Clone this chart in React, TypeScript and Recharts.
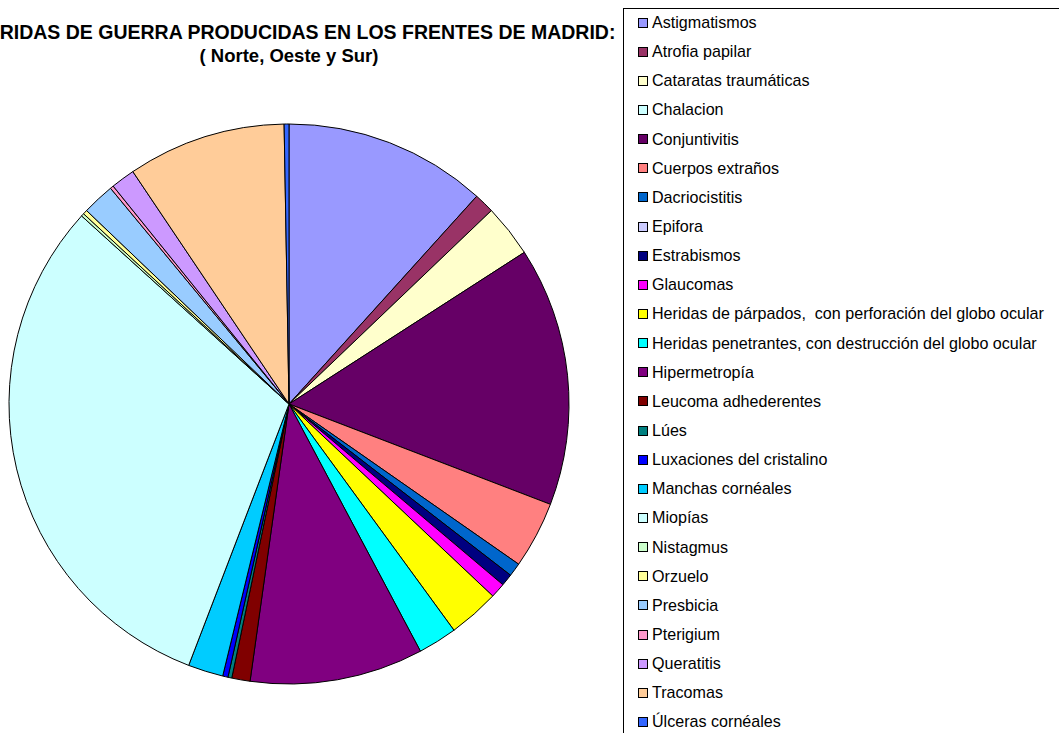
// Heridas de guerra - pie chart with boxed legend on the right

import { PieChart, Pie, Legend } from "recharts";

const categories = [
  "Astigmatismos",
  "Atrofia papilar",
  "Cataratas traumáticas",
  "Chalacion",
  "Conjuntivitis",
  "Cuerpos extraños",
  "Dacriocistitis",
  "Epifora",
  "Estrabismos",
  "Glaucomas",
  "Heridas de párpados,  con perforación del globo ocular",
  "Heridas penetrantes, con destrucción del globo ocular",
  "Hipermetropía",
  "Leucoma adhederentes",
  "Lúes",
  "Luxaciones del cristalino",
  "Manchas cornéales",
  "Miopías",
  "Nistagmus",
  "Orzuelo",
  "Presbicia",
  "Pterigium",
  "Queratitis",
  "Tracomas",
  "Úlceras cornéales",
];

// estimated share of each slice
const values = [
  42.1, 4.2, 10.9, 0, 53.8, 13.9, 2.8, 0, 2.5, 3.1, 10.6, 8.1, 36.0, 3.8, 0.8,
  1.1, 7.3, 111.2, 0.6, 0.9, 6.7, 0.7, 5.0, 32.9, 1.0,
];

const colors = [
  "#9999FF", "#993366", "#FFFFCC", "#CCFFFF", "#660066", "#FF8080", "#0066CC",
  "#CCCCFF", "#000080", "#FF00FF", "#FFFF00", "#00FFFF", "#800080", "#800000",
  "#008080", "#0000FF", "#00CCFF", "#CCFFFF", "#CCFFCC", "#FFFF99", "#99CCFF",
  "#FF99CC", "#CC99FF", "#FFCC99", "#3366FF",
];

const titleLines = [
  "HERIDAS DE GUERRA PRODUCIDAS EN LOS FRENTES DE MADRID:",
  "( Norte, Oeste y Sur)",
];

const data = categories.map((name, i) => ({ name, value: values[i], fill: colors[i] }));

function LegendBox(props: any) {
  // keep the original category order (recharts sorts by value name otherwise)
  const payload = [...(props.payload || [])].sort(
    (a: any, b: any) => categories.indexOf(a.value) - categories.indexOf(b.value)
  );
  return (
    <div
      style={{
        border: "1px solid #000",
        width: 460,
        height: 740,
        boxSizing: "border-box",
        background: "#fff",
        paddingLeft: 14,
      }}
    >
      {payload.map((entry: any, i: number) => (
        <div
          key={i}
          style={{
            height: 29.15,
            marginTop: i === 0 ? -1 : 0,
            display: "flex",
            alignItems: "center",
            fontSize: 16.1,
            color: "#000",
            whiteSpace: "pre",
          }}
        >
          <span
            style={{
              width: 10,
              height: 10,
              boxSizing: "border-box",
              border: "1px solid #000",
              background: colors[categories.indexOf(entry.value)],
              marginRight: 4,
              flexShrink: 0,
            }}
          />
          {entry.value}
        </div>
      ))}
    </div>
  );
}

export default function App() {
  return (
    <div
      style={{
        position: "fixed",
        left: 0,
        top: 0,
        width: 1059,
        height: 733,
        overflow: "hidden",
        background: "#fff",
        fontFamily: "'Liberation Sans', Arial, sans-serif",
      }}
    >
      <PieChart width={1059} height={733} margin={{ top: 0, right: 0, bottom: 0, left: 0 }}>
        <Pie
          data={data}
          dataKey="value"
          nameKey="name"
          cx={289}
          cy={404}
          outerRadius={280}
          startAngle={90}
          endAngle={-270}
          stroke="#000"
          strokeWidth={1}
          isAnimationActive={false}
        />
        <Legend
          layout="vertical"
          align="right"
          verticalAlign="top"
          content={LegendBox}
          wrapperStyle={{ left: 623, top: 8, width: 460, height: 740 }}
        />
      </PieChart>
      <div
        style={{
          position: "absolute",
          left: 289 - 450,
          top: 21,
          width: 900,
          textAlign: "center",
          fontWeight: "bold",
          lineHeight: "23px",
          color: "#000",
          whiteSpace: "pre",
        }}
      >
        {titleLines.map((t, i) => (
          <div
            key={i}
            style={{ fontSize: i === 0 ? 19.5 : 18.5, marginLeft: i === 0 ? 10 : 0 }}
          >
            {t}
          </div>
        ))}
      </div>
    </div>
  );
}
